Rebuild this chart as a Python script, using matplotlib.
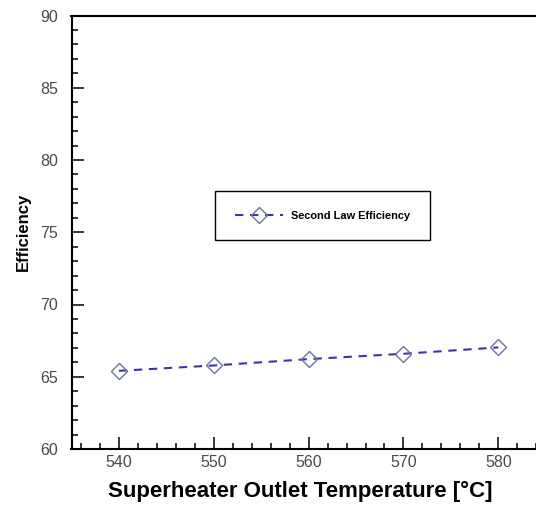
import matplotlib
matplotlib.use("Agg")
import matplotlib.pyplot as plt
from matplotlib.ticker import MultipleLocator

# data
temps = [540, 550, 560, 570, 580]
eff_second_law = [65.41, 65.78, 66.22, 66.59, 67.03]

plt.rcParams['font.family'] = ['Liberation Sans', 'DejaVu Sans']

fig = plt.figure(figsize=(5.36, 5.05), dpi=100)
# axes runs past the right edge like the cropped original
ax = fig.add_axes([71.5 / 536, 56 / 505, 474.2 / 536, 433.5 / 505])

ax.plot(temps, eff_second_law, color='#3535b0', lw=1.5, dashes=(4, 3.2),
        marker='D', markersize=8, markerfacecolor='none',
        markeredgecolor='#7070a8', markeredgewidth=1.0,
        label='Second Law Efficiency')

ax.set_xlim(535, 585)
ax.set_ylim(60, 90)
ax.xaxis.set_major_locator(MultipleLocator(10))
ax.xaxis.set_minor_locator(MultipleLocator(2))
ax.yaxis.set_major_locator(MultipleLocator(5))
ax.yaxis.set_minor_locator(MultipleLocator(1))
ax.tick_params(which='both', direction='in', color='black', width=1.1,
               top=False, right=False, labelsize=11.5, labelcolor='#4a4a4a')
ax.tick_params(which='major', length=8.5)
ax.tick_params(which='minor', length=4.5)
ax.tick_params(axis='x', which='both', pad=4)
ax.tick_params(axis='y', which='both', pad=9.5)

for side in ['left', 'bottom', 'top']:
    ax.spines[side].set_linewidth(1.5)
ax.spines['right'].set_visible(False)

ax.set_xlabel('Superheater Outlet Temperature [°C]', fontsize=16,
              fontweight='bold')
ax.xaxis.set_label_coords((300 - 71.5) / 474.2, -0.074)
ax.set_ylabel('Efficiency', fontsize=12, fontweight='bold', labelpad=7)

leg = ax.legend(loc='center', bbox_to_anchor=(322.5 / 536, 1 - 215.7 / 505),
                bbox_transform=fig.transFigure, fancybox=False,
                edgecolor='black', framealpha=1, borderpad=1.8,
                borderaxespad=0, handlelength=4.4, handletextpad=0.7,
                prop={'size': 7.9, 'weight': 'bold'})
leg.get_frame().set_linewidth(1.0)

fig.savefig('out.png', dpi=100)
